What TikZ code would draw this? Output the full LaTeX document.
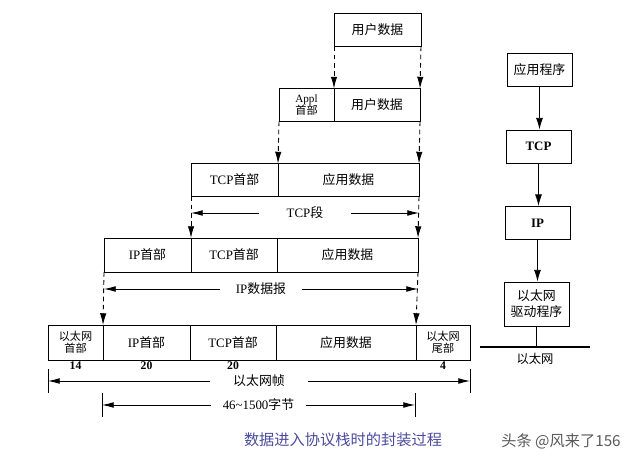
\documentclass[tikz,border=0pt]{standalone}
\usepackage{fontspec}
\setmainfont{Liberation Serif}
\newfontfamily\cjk{Noto Sans CJK SC}
\newcommand\zh[1]{{\cjk #1}}
\newcommand\px{0.3mm}
\usetikzlibrary{arrows.meta}
\definecolor{capblue}{HTML}{4B4B9E}

\begin{document}
\begin{tikzpicture}[x=\px,y=-\px,line width=0.75pt,
   cell/.style={draw,inner sep=0pt,outer sep=0pt,minimum height=33*\px,font=\fontsize{11}{13}\selectfont},
   hdr/.style={cell,align=center,font=\fontsize{9.5}{10.5}\selectfont},
   dasharrow/.style={dash pattern=on 4pt off 3pt,-{Latex[length=10pt,width=5.5pt]}},
   dimline/.style={{Latex[length=10pt,width=5pt]}-{Latex[length=10pt,width=5pt]}},
   dimtext/.style={fill=white,inner ysep=1pt,inner xsep=14pt,font=\fontsize{11}{13}\selectfont},
   lenlabel/.style={anchor=north,inner sep=1pt,font=\bfseries\fontsize{10}{12}\selectfont},
   layerbox/.style={draw,inner sep=0pt,minimum width=65*\px,minimum height=33*\px,align=center,font=\fontsize{11}{13.5}\selectfont},
   flow/.style={-{Latex[length=10pt,width=6pt]}}]
   \useasboundingbox (0,0) rectangle (640,466);
   \begin{scope}
    \node[cell,minimum width=87*\px] (ud1) at (377.5,30) {\zh{用户数据}};
    \node[hdr,minimum width=55*\px] (ah2) at (306.5,105) {Appl\\\zh{首部}};
    \node[cell,minimum width=86*\px,anchor=west] (ud2) at (ah2.east) {\zh{用户数据}};
    \node[cell,minimum width=87*\px] (tcp3) at (234.5,180) {TCP\zh{首部}};
    \node[cell,minimum width=141*\px,anchor=west] (ad3) at (tcp3.east) {\zh{应用数据}};
    \node[cell,minimum width=87*\px,minimum height=34*\px] (ip4) at (147.5,255) {IP\zh{首部}};
    \node[cell,minimum width=86*\px,minimum height=34*\px,anchor=west] (tcp4) at (ip4.east) {TCP\zh{首部}};
    \node[cell,minimum width=141*\px,minimum height=34*\px,anchor=west] (ad4) at (tcp4.east) {\zh{应用数据}};
    \node[hdr,minimum width=55*\px,minimum height=35*\px] (eh5) at (75.5,342.5) {\zh{以太网}\\\zh{首部}};
    \node[cell,minimum width=87*\px,minimum height=35*\px,anchor=west] (ip5) at (eh5.east) {IP\zh{首部}};
    \node[cell,minimum width=86*\px,minimum height=35*\px,anchor=west] (tcp5) at (ip5.east) {TCP\zh{首部}};
    \node[cell,minimum width=140*\px,minimum height=35*\px,anchor=west] (ad5) at (tcp5.east) {\zh{应用数据}};
    \node[hdr,minimum width=54*\px,minimum height=35*\px,anchor=west] (et5) at (ad5.east) {\zh{以太网}\\\zh{尾部}};
    \draw[dasharrow] (ud1.south west) -- (ud2.north west);
    \draw[dasharrow] (ud1.south east) -- (ud2.north east);
    \draw[dasharrow] (ah2.south west) -- (ad3.north west);
    \draw[dasharrow] (ud2.south east) -- (ad3.north east);
    \draw[dasharrow] (tcp3.south west) -- (tcp4.north west);
    \draw[dasharrow] (ad3.south east) -- (ad4.north east);
    \draw[dasharrow] (ip4.south west) -- (ip5.north west);
    \draw[dasharrow] (ad4.south east) -- (ad5.north east);
    \coordinate (segL) at (191,213);
    \coordinate (segR) at (419,213);
    \draw[dimline] (segL) -- node[dimtext,inner xsep=24pt] (seg) {TCP\zh{段}} (segR);
    \coordinate (dgmL) at (104,289);
    \coordinate (dgmR) at (418,289);
    \draw[dimline] (dgmL) -- node[dimtext] (dgm) {IP\zh{数据报}} (dgmR);
    \coordinate (frmL) at (48,381);
    \coordinate (frmR) at (470,381);
    \draw[dimline] (frmL) -- node[dimtext,inner xsep=20pt] (frm) {\zh{以太网帧}} (frmR);
    \draw ([yshift=10pt]frmL) -- ([yshift=-10pt]frmL);
    \draw ([yshift=10pt]frmR) -- ([yshift=-10pt]frmR);
    \coordinate (payL) at (102,405);
    \coordinate (payR) at (415,405);
    \draw[dimline] (payL) -- node[dimtext,inner xsep=10pt] (pay) {46\textasciitilde1500\zh{字节}} (payR);
    \draw ([yshift=10pt]payL) -- ([yshift=-10pt]payL);
    \draw ([yshift=10pt]payR) -- ([yshift=-10pt]payR);
    \node[lenlabel] (len14) at (eh5.south) {14};
    \node[lenlabel] (len20a) at (ip5.south) {20};
    \node[lenlabel] (len20b) at (tcp5.south) {20};
    \node[lenlabel] (len4) at (et5.south) {4};
    \node[text=capblue,font=\cjk\fontsize{13}{15}\selectfont] (cap) at (343,440) {数据进入协议栈时的封装过程};
   \end{scope}
   \begin{scope}
    \node[layerbox] (app) at (539.5,70) {\zh{应用程序}};
    \node[layerbox,font=\bfseries\fontsize{11}{13}\selectfont] (tcp) at (538.5,146.5) {TCP};
    \node[layerbox,font=\bfseries\fontsize{11}{13}\selectfont] (ip) at (537.5,223) {IP};
    \node[layerbox,minimum height=44*\px] (drv) at (536.5,304) {\zh{以太网}\\\zh{驱动程序}};
    \draw[flow] (app.south) -- (app.south |- tcp.north);
    \draw[flow] (tcp.south) -- (tcp.south |- ip.north);
    \draw[flow] (ip.south) -- (ip.south |- drv.north);
    \coordinate (lanL) at (480,347);
    \coordinate (lanR) at (590,347);
    \draw[line width=2pt] (lanL) -- node[below=1pt,font=\cjk\fontsize{10.5}{12}\selectfont] (lan) {以太网} (lanR);
    \draw (drv.south) -- (drv.south |- lanL);
    \node[text=black!65,font=\cjk\fontsize{13}{15}\selectfont] (mark) at (561,441) {头条 @风来了156};
   \end{scope}
\end{tikzpicture}
\end{document}
